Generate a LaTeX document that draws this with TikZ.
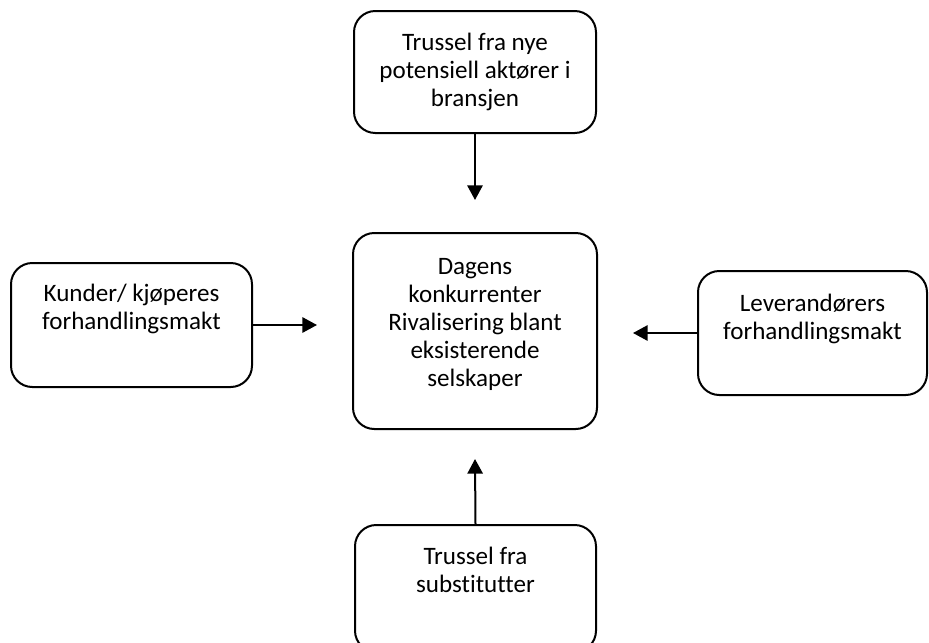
\documentclass[tikz,border=0pt]{standalone}
\usepackage{fontspec}
\setmainfont{Carlito}[Ligatures=NoCommon]
\usetikzlibrary{arrows.meta}
\begin{document}
\begin{tikzpicture}[x=0.75pt,y=-0.75pt,
  box/.style={draw=black, line width=1.5pt, rounded corners=16pt, inner sep=0pt},
  lbl/.style={anchor=north, align=center, inner sep=0pt, font=\fontsize{18.8}{21}\selectfont},
  arr/.style={line width=1.5pt, -{Triangle[length=11pt,width=11.5pt]}}]
\clip (0,0) rectangle (929,643);
\useasboundingbox (0,0) rectangle (929,643);
\node[box, minimum width=181.5pt, minimum height=91.5pt] (top) at (475,72) {};
\node[box, minimum width=183pt, minimum height=147pt] (mid) at (475,331) {};
\node[box, minimum width=180.75pt, minimum height=93pt] (left) at (131.5,325) {};
\node[box, minimum width=171.75pt, minimum height=93pt] (right) at (812.5,333) {};
\node[box, minimum width=180.75pt, minimum height=95.25pt] (bot) at (475.5,588.5) {};
\node[lbl] (toptxt) at (475,33) {Trussel fra nye\\potensiell aktører i\\bransjen};
\node[lbl] (midtxt) at (475,258) {Dagens\\konkurrenter\\Rivalisering blant\\eksisterende\\selskaper};
\node[lbl] (lefttxt) at (131.5,284) {Kunder/ kjøperes\\forhandlingsmakt};
\node[lbl] (righttxt) at (812.5,294) {Leverandørers\\forhandlingsmakt};
\node[lbl] (bottxt) at (475.5,547) {Trussel fra\\substitutter};
\coordinate (ta) at (475,200);
\coordinate (la) at (317,325);
\coordinate (ra) at (633,333);
\coordinate (ba) at (475,459);
\draw[arr] (top.south) -- (ta);
\draw[arr] (left.east) -- (la);
\draw[arr] (right.west) -- (ra);
\draw[arr] (bot.north) -- (ba);
\end{tikzpicture}
\end{document}
